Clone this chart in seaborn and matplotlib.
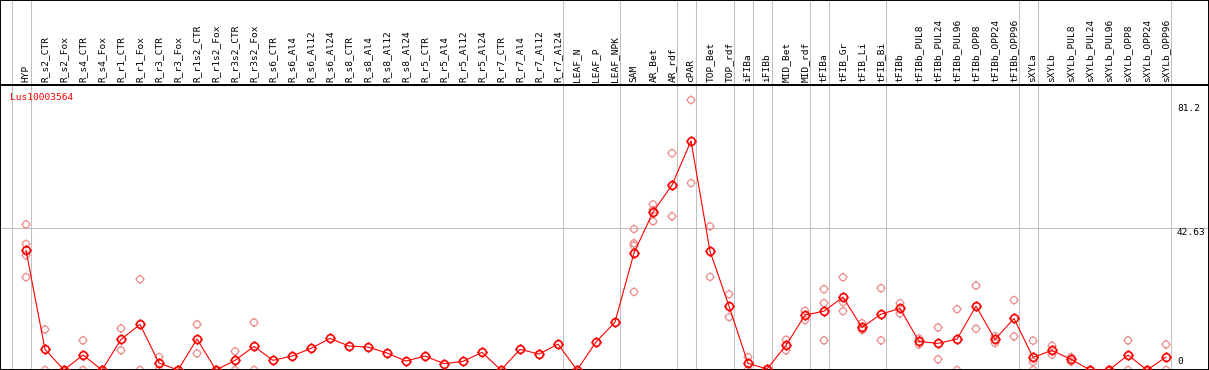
import matplotlib
matplotlib.use("Agg")
import matplotlib.pyplot as plt
from matplotlib.path import Path
import numpy as np
import pandas as pd
import seaborn as sns

GENE = 'Lus10003564'

samples = ['HYP', 'R_s2_CTR', 'R_s2_Fox', 'R_s4_CTR', 'R_s4_Fox', 'R_r1_CTR', 'R_r1_Fox',
           'R_r3_CTR', 'R_r3_Fox', 'R_r1s2_CTR', 'R_r1s2_Fox', 'R_r3s2_CTR', 'R_r3s2_Fox',
           'R_s6_CTR', 'R_s6_Al4', 'R_s6_Al12', 'R_s6_Al24', 'R_s8_CTR', 'R_s8_Al4',
           'R_s8_Al12', 'R_s8_Al24', 'R_r5_CTR', 'R_r5_Al4', 'R_r5_Al12', 'R_r5_Al24',
           'R_r7_CTR', 'R_r7_Al4', 'R_r7_Al12', 'R_r7_Al24', 'LEAF_N', 'LEAF_P', 'LEAF_NPK',
           'SAM', 'AR_Bet', 'AR_rdf', 'cPAR', 'TOP_Bet', 'TOP_rdf', 'iFIBa', 'iFIBb',
           'MID_Bet', 'MID_rdf', 'tFIBa', 'tFIB_Gr', 'tFIB_Li', 'tFIB_Bi', 'tFIBb',
           'tFIBb_PUL8', 'tFIBb_PUL24', 'tFIBb_PUL96', 'tFIBb_OPP8', 'tFIBb_OPP24',
           'tFIBb_OPP96', 'sXYLa', 'sXYLb', 'sXYLb_PUL8', 'sXYLb_PUL24', 'sXYLb_PUL96',
           'sXYLb_OPP8', 'sXYLb_OPP24', 'sXYLb_OPP96']

means = [36.0, 6.2, 0, 4.5, 0, 9.2, 13.7, 2.1, 0, 9.3, 0, 2.9, 7.1,
         2.9, 4.2, 6.5, 9.5, 7.2, 6.9, 5.1, 2.7, 4.2, 1.9, 2.6, 5.3,
         0, 6.2, 4.8, 7.8, 0, 8.4, 14.4,
         35.2, 47.5, 55.6, 68.9, 35.7, 19.2, 2.0, 0.3,
         7.4, 16.5, 17.7, 21.9, 12.8, 16.8, 18.5,
         8.6, 8.0, 9.3, 19.2, 9.2, 15.5,
         3.8, 5.9, 3.2, 0, 0, 4.5, 0, 3.9]

replicates = [[43.8, 37.9, 34.5, 27.9], [12.2, 0], [0, 0], [8.9, 0], [0, 0],
              [12.5, 5.9], [27.3, 0], [3.9, 0], [0, 0], [13.7, 5.0], [0, 0],
              [5.6, 0], [14.3, 0],
              [], [], [], [], [], [], [], [], [], [], [], [], [], [], [], [],
              [], [], [],
              [42.4, 38.1, 37.4, 23.5], [49.8, 44.7, 48.1], [65.2, 46.2], [81.2, 56.2],
              [43.2, 28.0], [22.8, 15.9], [3.9, 0], [0, 0],
              [9.1, 5.9], [17.8, 15.0], [24.3, 20.1, 8.9], [27.9, 20.4, 17.7],
              [14.1, 12.0, 12.4], [24.6, 8.9], [20.1, 17.0],
              [9.5, 7.7], [12.8, 3.2], [18.3, 0], [25.4, 12.4], [10.2, 8.1], [21.0, 10.1],
              [8.8, 2.5, 0], [7.3, 4.6], [3.9, 2.5], [0, 0], [0, 0], [8.9, 0], [0, 0],
              [7.7, 0]]

# group separators: drawn after these sample indices
group_ends = [-1, 0, 28, 31, 34, 35, 37, 38, 39, 41, 42, 45, 52, 53, 60]

y_ticks = [0, 42.63, 81.2]

mean_df = pd.DataFrame({'pos': np.arange(len(samples)), 'value': means})
rep_df = pd.DataFrame([(i, v) for i, reps in enumerate(replicates) for v in reps],
                      columns=['pos', 'value'])

# circle with four small ticks, like the original markers
circ = Path.circle((0, 0), 1.0)
ticks = Path([(0, 1.0), (0, 1.35), (0, -1.0), (0, -1.35),
              (1.0, 0), (1.35, 0), (-1.0, 0), (-1.35, 0)],
             [Path.MOVETO, Path.LINETO] * 4)
gear = Path.make_compound_path(circ, ticks)

sns.set_style('white')
plt.rcParams['font.family'] = ['DejaVu Sans Mono']

fig = plt.figure(figsize=(12.09, 3.70), dpi=100)
head_frac = 85 / 370
ax = fig.add_axes([0, 0, 1, 1 - head_frac])
hax = fig.add_axes([0, 1 - head_frac, 1, head_frac], sharex=ax)

xmin = -26 / 19
xmax = xmin + 1209 / 19
ax.set_xlim(xmin, xmax)
ax.set_ylim(0, 85.7)
hax.set_ylim(0, 1)

grey = '#c0c0c0'
for a in (ax, hax):
    for g in group_ends:
        a.axvline(g + 0.24, color=grey, lw=0.75, zorder=1)
    for s in a.spines.values():
        s.set_color('black')
        s.set_linewidth(1.4)
    a.set_xticks([])
    a.set_yticks([])
ax.axhline(y_ticks[1], color=grey, lw=0.75, zorder=1)

sns.scatterplot(data=rep_df, x='pos', y='value', ax=ax, marker=gear, s=44,
                facecolors='none', edgecolor='#ec8c8c', linewidth=0.9,
                zorder=2, legend=False)
sns.lineplot(data=mean_df, x='pos', y='value', ax=ax, color='red', lw=0.8,
             marker=gear, markersize=7.5, markerfacecolor='none',
             markeredgecolor='red', markeredgewidth=1.2, zorder=3)
ax.set_xlabel('')
ax.set_ylabel('')
ax.set_xticks([])
ax.set_yticks([])

for i, name in enumerate(samples):
    hax.text(i, 0.03, name, rotation=90, ha='center', va='bottom', fontsize=6.8,
             color='black')

ax.text(xmin + 10 / 19, 83.3, GENE, color='red', fontsize=6.8, ha='left', va='top')

lab_x = xmin + 1177 / 19
offs = [5.8, -2.9, -6.5]
for t, o in zip(y_ticks, offs):
    ax.annotate(f'{t:g}', (lab_x, t), xytext=(0, o), textcoords='offset points',
                ha='left', va='center', fontsize=6.8, color='black')

fig.savefig('out.png', dpi=100)
